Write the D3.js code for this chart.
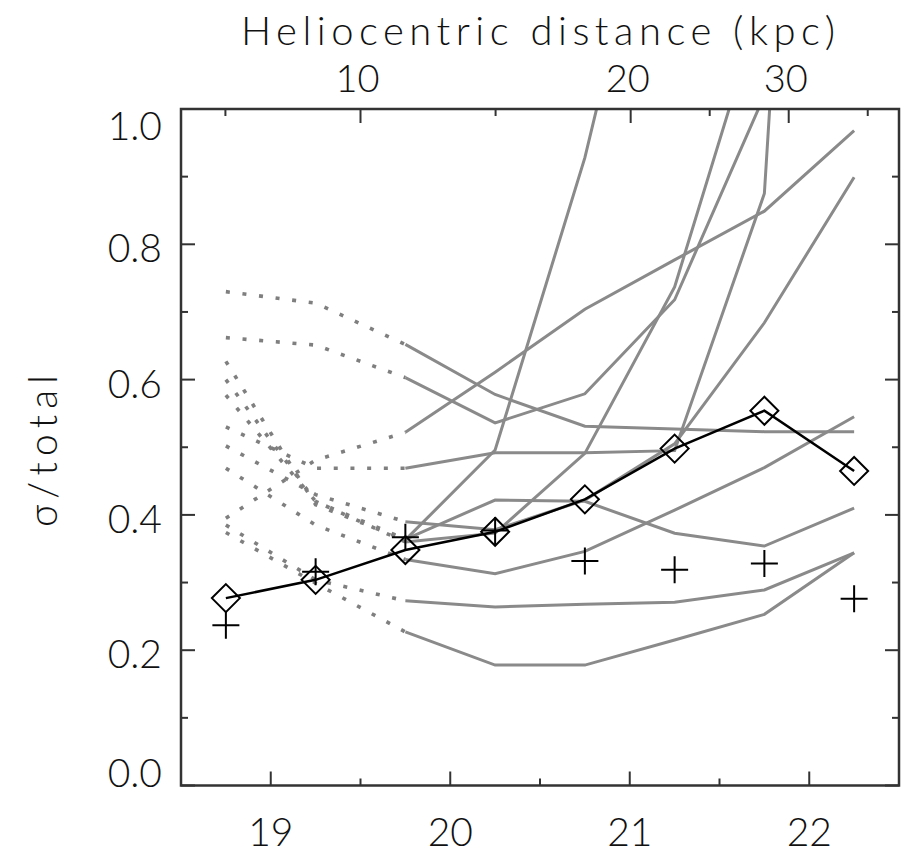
<!DOCTYPE html>
<html>
<head>
<meta charset="utf-8">
<script src="https://cdn.jsdelivr.net/npm/d3@7"></script>
<style>
  html, body { margin: 0; padding: 0; background: #fff; }
  svg { display: block; }
  text { font-family: "Lato", "DejaVu Sans", sans-serif; font-weight: 300; fill: #111; }
</style>
</head>
<body>
<svg id="chart" width="907" height="854"></svg>
<script>
(function () {
// ---- data ----
const mags = [18.75, 19.25, 19.75, 20.25, 20.75, 21.25, 21.75, 22.25];
const sdssDiamond = [0.277, 0.304, 0.348, 0.375, 0.423, 0.498, 0.554, 0.465];
const sdssPlus    = [0.237, 0.316, 0.367, 0.377, 0.332, 0.319, 0.328, 0.276];

const halo1  = [0.730, 0.713, 0.652, 0.578, 0.531, 0.527, 0.523, 0.523];
const halo2  = [0.662, 0.651, 0.603, 0.536, 0.579, 0.718, 1.02, 1.40];
const halo3  = [0.395, 0.481, 0.522, 0.611, 0.704, 0.777, 0.849, 0.968];
const halo4  = [0.530, 0.469, 0.469, 0.492, 0.492, 0.495, 0.875, 3.0];
const halo5  = [0.627, 0.415, 0.363, 0.496, 0.928, 1.48, 2.0, 2.5];
const halo6  = [0.577, 0.420, 0.360, 0.373, 0.491, 0.737, 1.17, 1.6];
const halo7  = [0.502, 0.430, 0.390, 0.378, 0.422, 0.505, 0.684, 0.899];
const halo8  = [0.600, 0.420, 0.364, 0.422, 0.420, 0.373, 0.354, 0.410];
const halo9  = [0.469, 0.385, 0.334, 0.313, 0.346, 0.407, 0.470, 0.545];
const halo10 = [0.385, 0.304, 0.273, 0.264, 0.268, 0.271, 0.289, 0.344];
const halo11 = [0.374, 0.299, 0.227, 0.178, 0.178, 0.215, 0.253, 0.344];
const halos = [halo1, halo2, halo3, halo4, halo5, halo6, halo7, halo8, halo9, halo10, halo11];
const dottedCount = 3; // first points (bright magnitudes) drawn dotted

const xMajorTicks = [19, 20, 21, 22];
const xMinorTicks = [19.5, 20.5, 21.5];
const yMajorTicks = [0.0, 0.2, 0.4, 0.6, 0.8, 1.0];
const yMinorTicks = [0.1, 0.3, 0.5, 0.7, 0.9];
const topTicksKpc = [10, 20, 30];
const absMag = 4.5;

const xTitle = "Heliocentric distance (kpc)";
const yTitle = "σ/total";

// ---- layout ----
const svg = d3.select("#chart");
const pL = 181, pR = 899, pT = 109, pB = 785.5;
const x = d3.scaleLinear().domain([18.5, 22.5]).range([pL, pR]);
const y = d3.scaleLinear().domain([0, 1]).range([pB, pT]);
const kpcToMag = d => absMag + 5 * Math.log10(d * 100);

const grey = "#8a8a8a";

svg.append("clipPath").attr("id", "clip")
  .append("rect").attr("x", pL).attr("y", pT)
  .attr("width", pR - pL).attr("height", pB - pT);

const plot = svg.append("g").attr("clip-path", "url(#clip)");
const line = d3.line().x(d => x(d[0])).y(d => y(d[1]));

// grey model lines
halos.forEach(h => {
  const pts = mags.map((m, i) => [m, h[i]]);
  plot.append("path")
    .attr("d", line(pts.slice(0, dottedCount)))
    .attr("fill", "none").attr("stroke", "#7f7f7f").attr("stroke-width", 3.6)
    .attr("stroke-dasharray", "4,12.7");
  plot.append("path")
    .attr("d", line(pts.slice(dottedCount - 1)))
    .attr("fill", "none").attr("stroke", grey).attr("stroke-width", 3);
});

// black data line
const blackPts = mags.map((m, i) => [m, sdssDiamond[i]]);
plot.append("path").attr("d", line(blackPts))
  .attr("fill", "none").attr("stroke", "#000").attr("stroke-width", 2.5);

// diamonds
const dsz = 14;
plot.selectAll(".dia").data(blackPts).enter().append("path")
  .attr("d", d => {
    const cx = x(d[0]), cy = y(d[1]);
    return `M${cx},${cy - dsz}L${cx + dsz},${cy}L${cx},${cy + dsz}L${cx - dsz},${cy}Z`;
  })
  .attr("fill", "none").attr("stroke", "#000").attr("stroke-width", 2);

// plus
const psz = 13.5;
const plusPts = mags.map((m, i) => [m, sdssPlus[i]]);
plot.selectAll(".plus").data(plusPts).enter().append("path")
  .attr("d", d => {
    const cx = x(d[0]), cy = y(d[1]);
    return `M${cx - psz},${cy}L${cx + psz},${cy}M${cx},${cy - psz}L${cx},${cy + psz}`;
  })
  .attr("fill", "none").attr("stroke", "#000").attr("stroke-width", 2);

// ---- frame & ticks ----
const axisColor = "#333";
svg.append("rect").attr("x", pL).attr("y", pT)
  .attr("width", pR - pL).attr("height", pB - pT)
  .attr("fill", "none").attr("stroke", axisColor).attr("stroke-width", 2.5);

const tickG = svg.append("g").attr("stroke", axisColor).attr("stroke-width", 2);
const majL = 14, minL = 7;
xMajorTicks.forEach(v => tickG.append("line").attr("x1", x(v)).attr("x2", x(v)).attr("y1", pB).attr("y2", pB - majL));
xMinorTicks.forEach(v => tickG.append("line").attr("x1", x(v)).attr("x2", x(v)).attr("y1", pB).attr("y2", pB - minL));
yMajorTicks.forEach(v => {
  tickG.append("line").attr("x1", pL).attr("x2", pL + majL).attr("y1", y(v)).attr("y2", y(v));
  tickG.append("line").attr("x1", pR).attr("x2", pR - majL).attr("y1", y(v)).attr("y2", y(v));
});
yMinorTicks.forEach(v => {
  tickG.append("line").attr("x1", pL).attr("x2", pL + minL).attr("y1", y(v)).attr("y2", y(v));
  tickG.append("line").attr("x1", pR).attr("x2", pR - minL).attr("y1", y(v)).attr("y2", y(v));
});
const topMajMag = topTicksKpc.map(kpcToMag);
const topMinMag = [];
for (let i = 0; i < topMajMag.length - 1; i++) topMinMag.push((topMajMag[i] + topMajMag[i + 1]) / 2);
topMinMag.push(topMajMag[0] - (topMajMag[1] - topMajMag[0]) / 2);
const n = topMajMag.length;
topMinMag.push(topMajMag[n - 1] + (topMajMag[n - 1] - topMajMag[n - 2]) / 2);
topMajMag.forEach(v => tickG.append("line").attr("x1", x(v)).attr("x2", x(v)).attr("y1", pT).attr("y2", pT + majL));
topMinMag.filter(v => v > 18.5 && v < 22.5).forEach(v => tickG.append("line").attr("x1", x(v)).attr("x2", x(v)).attr("y1", pT).attr("y2", pT + minL));

// ---- labels ----
const fs = 39;
svg.selectAll(".xl").data(xMajorTicks).enter().append("text")
  .attr("x", d => x(d)).attr("y", 846).attr("text-anchor", "middle")
  .attr("font-size", fs).text(d => d);

svg.selectAll(".yl").data(yMajorTicks).enter().append("text")
  .attr("x", 162)
  .attr("y", d => y(d) + (d === 1 ? 31 : d === 0 ? 1 : 18))
  .attr("text-anchor", "end").attr("font-size", fs)
  .text(d => d.toFixed(1));

svg.selectAll(".tl").data(topTicksKpc).enter().append("text")
  .attr("x", d => x(kpcToMag(d)) - 3).attr("y", 92).attr("text-anchor", "middle")
  .attr("font-size", 38).text(d => d);

svg.append("text").attr("x", 538).attr("y", 45).attr("text-anchor", "middle")
  .attr("font-size", 40).attr("textLength", 594).attr("lengthAdjust", "spacing")
  .text(xTitle);

svg.append("text")
  .attr("transform", "translate(57,451) rotate(-90)")
  .attr("text-anchor", "middle").attr("font-size", 39)
  .attr("textLength", 152).attr("lengthAdjust", "spacing")
  .text(yTitle);
})();
</script>
</body>
</html>
